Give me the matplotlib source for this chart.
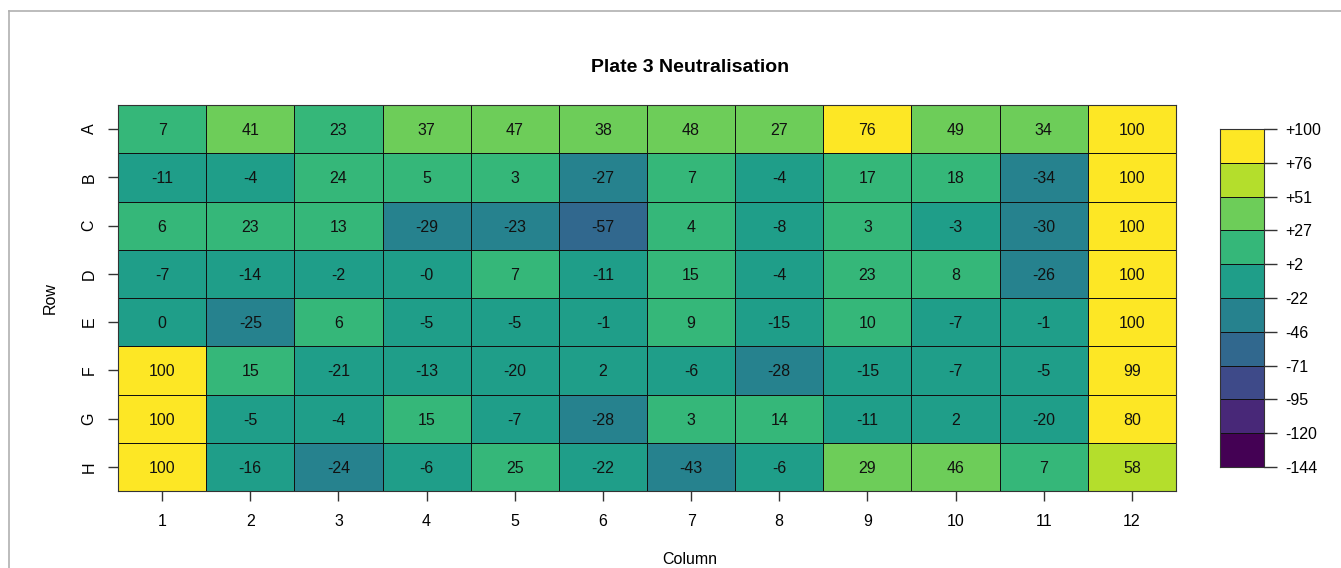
import numpy as np
import matplotlib
matplotlib.use("Agg")
import matplotlib.pyplot as plt
from matplotlib.colors import ListedColormap, BoundaryNorm
from matplotlib.lines import Line2D

plt.rcParams["font.family"] = ["Liberation Sans", "DejaVu Sans"]

# Plate layout
rows = ["A", "B", "C", "D", "E", "F", "G", "H"]
columns = [str(c) for c in range(1, 13)]

# Percent neutralisation per well, one list per plate row
row_A = [7, 41, 23, 37, 47, 38, 48, 27, 76, 49, 34, 100]
row_B = [-11, -4, 24, 5, 3, -27, 7, -4, 17, 18, -34, 100]
row_C = [6, 23, 13, -29, -23, -57, 4, -8, 3, -3, -30, 100]
row_D = [-7, -14, -2, -0.0, 7, -11, 15, -4, 23, 8, -26, 100]
row_E = [0, -25, 6, -5, -5, -1, 9, -15, 10, -7, -1, 100]
row_F = [100, 15, -21, -13, -20, 2, -6, -28, -15, -7, -5, 99]
row_G = [100, -5, -4, 15, -7, -28, 3, 14, -11, 2, -20, 80]
row_H = [100, -16, -24, -6, 25, -22, -43, -6, 29, 46, 7, 58]

# Colour scale limits and number of classes
scale_min = -144
scale_max = 100
n_classes = 10

values = np.array([row_A, row_B, row_C, row_D, row_E, row_F, row_G, row_H], dtype=float)

edges = scale_min + np.arange(n_classes + 1) * (scale_max - scale_min) / n_classes
viridis10 = ["#440154", "#482878", "#3E4A89", "#31688E", "#26828E",
             "#1F9E89", "#35B779", "#6DCD59", "#B4DE2C", "#FDE725"]
cmap = ListedColormap(viridis10)
norm = BoundaryNorm(edges, cmap.N)

W, H = 1341, 568
fig = plt.figure(figsize=(W / 100, H / 100), dpi=100)

# Frame lines around the figure
fig.add_artist(Line2D([9 / W, 9 / W], [0, 1 - 11 / H], transform=fig.transFigure,
                      color="#b0b0b0", lw=1.2))
fig.add_artist(Line2D([9 / W, 1], [1 - 11 / H, 1 - 11 / H], transform=fig.transFigure,
                      color="#b0b0b0", lw=1.2))

# Main plate heatmap
x0, x1, y0, y1 = 118, 1176, 105, 491
ax = fig.add_axes([x0 / W, 1 - y1 / H, (x1 - x0) / W, (y1 - y0) / H])
nr, nc = values.shape
ax.pcolormesh(np.arange(nc + 1) + 0.5, np.arange(nr + 1) + 0.5, values,
              cmap=cmap, norm=norm, edgecolors="#111111", linewidth=0.7)
ax.set_xlim(0.5, nc + 0.5)
ax.set_ylim(nr + 0.5, 0.5)
for i in range(nr):
    for j in range(nc):
        ax.text(j + 1, i + 1, f"{values[i, j]:.0f}", ha="center",
                va="center_baseline", fontsize=11.5, color="#111111")

ax.set_xticks(np.arange(1, nc + 1))
ax.set_xticklabels(columns)
ax.set_yticks(np.arange(1, nr + 1))
ax.set_yticklabels(rows, rotation=90, va="center")
ax.tick_params(axis="x", length=7.5, width=1, color="#333333", pad=9, labelsize=11.5)
ax.tick_params(axis="y", length=7.5, width=1, color="#333333", pad=8, labelsize=11.5)
for s in ax.spines.values():
    s.set_color("#333333")
    s.set_linewidth(0.8)

fig.text(690 / W, 1 - 67 / H, "Plate 3 Neutralisation", ha="center", va="center",
         fontsize=14, fontweight="bold")
fig.text(690 / W, 1 - 560 / H, "Column", ha="center", va="center", fontsize=11.5)
fig.text(50 / W, 1 - 298 / H, "Row", ha="center", va="center", rotation=90,
         fontsize=11.5)

# Colour key
cx0, cx1, cy0, cy1 = 1220, 1264, 129, 467
cax = fig.add_axes([cx0 / W, 1 - cy1 / H, (cx1 - cx0) / W, (cy1 - cy0) / H])
cax.pcolormesh([0, 1], edges, ((edges[:-1] + edges[1:]) / 2)[:, None],
               cmap=cmap, norm=norm, edgecolors="#111111", linewidth=0.7)
cax.set_xlim(0, 1)
cax.set_ylim(scale_min, scale_max)
cax.set_xticks([])
cax.yaxis.tick_right()
cax.set_yticks(edges)
cax.set_yticklabels([f"{e:+.0f}" for e in edges])
cax.tick_params(axis="y", length=9, width=1, color="#333333", pad=6, labelsize=11.5)
for s in cax.spines.values():
    s.set_color("#333333")
    s.set_linewidth(0.8)

fig.savefig("out.png", dpi=100, facecolor="white")
